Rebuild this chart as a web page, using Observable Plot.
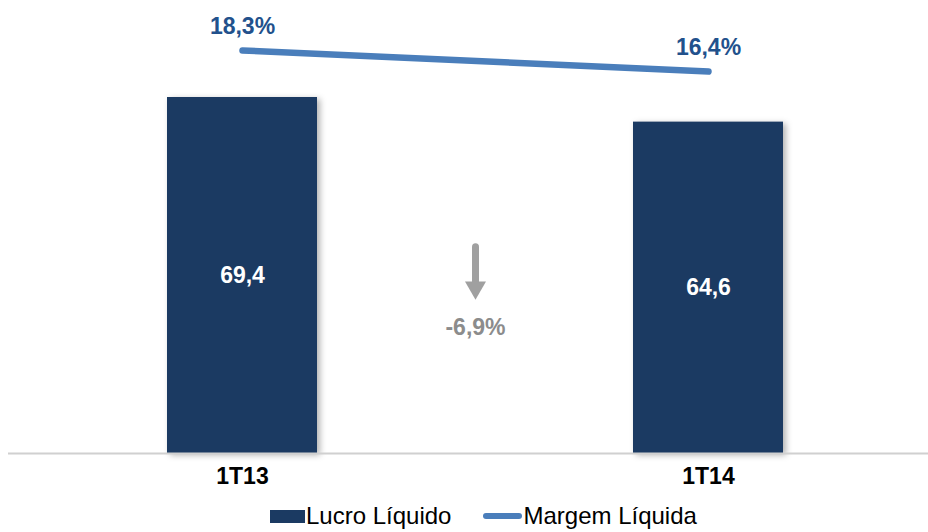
<!DOCTYPE html>
<html>
<head>
<meta charset="utf-8">
<script src="https://cdn.jsdelivr.net/npm/d3@7"></script>
<script src="https://cdn.jsdelivr.net/npm/@observablehq/plot@0.6"></script>
<style>
  body { margin: 0; background: #fff; font-family: "Liberation Sans", Arial, sans-serif; }
  #chart svg { display: block; }
  #legend { height: 32px; display: flex; align-items: center; padding-left: 270px; font-size: 24px; color: #000; }
  .sw-bar { width: 35px; height: 13px; background: #1B3A62; margin-right: 1px; }
  .sw-line { width: 39px; height: 6px; border-radius: 3px; background: #4A7EBB; margin-left: 32px; margin-right: 1px; }
</style>
</head>
<body>
<div id="chart"></div>
<div id="legend">
  <div class="sw-bar"></div><span>Lucro Líquido</span>
  <div class="sw-line"></div><span>Margem Líquida</span>
</div>
<script>
// Data
const periods = ["1T13", "1T14"];
const lucro = [69.4, 64.6];
const lucroLabels = ["69,4", "64,6"];
const margem = [18.3, 16.4];
const margemLabels = ["18,3%", "16,4%"];
const changeLabel = "-6,9%";
const changeSlot = "Δ";           // empty middle slot between the two periods
const arrowSpan = [40.2, 32.8];   // annotation arrow (in Lucro units)
const arrowLabelAt = 24.6;

const barData = periods.map((p, i) => ({period: p, value: lucro[i], label: lucroLabels[i]}));
const marginData = periods.map((p, i) => ({period: p, value: margem[i], label: margemLabels[i]}));

// secondary axis: margem (%) mapped onto the Lucro y scale
const margemToY = d3.scaleLinear().domain([0, 100]).range([39.07, 254.87]);

const barColor = "#1B3A62";
const lineColor = "#4A7EBB";
const pctColor = "#22518C";
const grey = "#8C8C8C";

const chart = Plot.plot({
  width: 928,
  height: 500,
  marginTop: 0,
  marginBottom: 47,
  marginLeft: 8,
  marginRight: 0,
  style: {fontFamily: "'Liberation Sans', Arial, sans-serif", background: "#fff"},
  x: {type: "band", domain: [periods[0], changeSlot, periods[1]], range: [8, 941], paddingInner: 0.358, paddingOuter: 0.677, label: null},
  y: {domain: [0, 88.31], axis: null},
  marks: [
    Plot.barY(barData, {x: "period", y: "value", fill: barColor}),
    Plot.ruleY([0], {stroke: "#D0D0D0", strokeWidth: 2}),
    Plot.text(barData, {x: "period", y: d => d.value / 2, text: "label", fill: "#fff", fontSize: 23, fontWeight: "bold"}),
    Plot.axisX({ticks: periods, tickSize: 0, tickPadding: 14, fontSize: 23, fontWeight: "bold", fill: "#000", label: null}),
    Plot.line(marginData, {x: "period", y: d => margemToY(d.value), stroke: lineColor, strokeWidth: 6.5, strokeLinecap: "round"}),
    Plot.text(marginData, {x: "period", y: d => margemToY(d.value), text: "label", dy: -24, fill: pctColor, fontSize: 23, fontWeight: "bold"}),
    Plot.ruleX([changeSlot], {x: d => d, y1: arrowSpan[0], y2: arrowSpan[1], stroke: "#A0A0A0", strokeWidth: 7, strokeLinecap: "round"}),
    Plot.dot([changeSlot], {x: d => d, y: arrowSpan[1] - 0.45, symbol: "triangle", rotate: 180, r: 7.8, fill: "#A0A0A0", stroke: null}),
    Plot.text([changeLabel], {x: () => changeSlot, y: arrowLabelAt, text: d => d, fill: grey, fontSize: 23, fontWeight: "bold"})
  ]
});

d3.select(chart).selectAll("g[aria-label='bar'] rect")
  .style("filter", "drop-shadow(3px 2px 3px rgba(0,0,0,0.3))");

document.getElementById("chart").appendChild(chart);
</script>
</body>
</html>
